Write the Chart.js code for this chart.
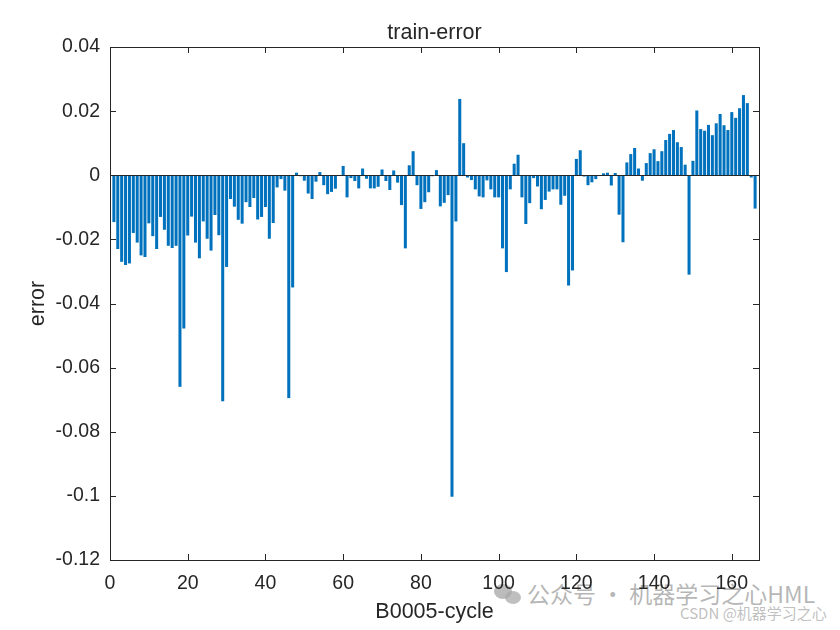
<!DOCTYPE html>
<html>
<head>
<meta charset="utf-8">
<script src="https://cdn.jsdelivr.net/npm/chart.js@4/dist/chart.umd.min.js"></script>
<style>
  html, body { margin: 0; padding: 0; background: #fff; }
  #wrap { position: relative; width: 840px; height: 630px; }
  #chart { position: absolute; left: 0; top: 0; z-index: 2; }
  .wm { position: absolute; z-index: 1; font-family: "Noto Sans CJK SC", sans-serif; white-space: nowrap; }
  #wm1 { left: 527px; top: 576px; font-size: 23px; color: rgba(150,150,150,0.7); }
  #wm2 { left: 680px; top: 602px; font-size: 15px; color: rgba(175,175,175,0.8); }
  #wmIcon  { left: 494px; top: 584px; width: 18px; height: 15px; border-radius: 50%; background: rgba(160,160,160,0.7); }
  #wmIcon2 { left: 505px; top: 591px; width: 16px; height: 13px; border-radius: 50%; background: rgba(170,170,170,0.75); }
</style>
</head>
<body>
<div id="wrap">
  <div class="wm" id="wmIcon"></div>
  <div class="wm" id="wmIcon2"></div>
  <div class="wm" id="wm1">公众号 · 机器学习之心HML</div>
  <div class="wm" id="wm2">CSDN @机器学习之心</div>
  <canvas id="chart" width="840" height="630"></canvas>
</div>
<script>
// ── data ──
const errors = [
  -0.0146, -0.023, -0.027, -0.028, -0.0275, -0.018, -0.021, -0.025, -0.0255, -0.015,
  -0.019, -0.023, -0.013, -0.017, -0.022, -0.0227, -0.022, -0.066, -0.0478, -0.0188,
  -0.0129, -0.021, -0.0259, -0.0144, -0.0198, -0.0235, -0.0124, -0.0187, -0.0705, -0.0286,
  -0.0074, -0.0098, -0.0139, -0.0151, -0.0084, -0.0099, -0.0071, -0.0138, -0.013, -0.0099,
  -0.0198, -0.0149, -0.0038, -0.0012, -0.0048, -0.0695, -0.035, 0.0008, -0.0003, -0.0017,
  -0.0057, -0.0074, -0.002, 0.001, -0.0031, -0.0059, -0.0052, -0.0042, -0.0002, 0.0029,
  -0.0069, -0.0009, -0.0018, -0.0041, 0.0021, -0.0011, -0.0041, -0.0041, -0.0036, 0.0018,
  -0.0018, -0.0046, 0.0015, -0.0023, -0.0093, -0.0228, 0.0031, 0.0075, -0.0031, -0.0105,
  -0.0084, -0.0053, -0.0003, 0.0016, -0.0097, -0.0086, -0.0062, -0.1003, -0.0144, 0.0238,
  0.01, -0.0007, -0.0015, -0.0044, -0.0066, -0.0069, -0.0016, -0.0044, -0.0069, -0.0069,
  -0.0228, -0.0302, -0.0044, 0.0036, 0.0064, -0.0069, -0.0152, -0.0087, -0.0009, -0.0035,
  -0.0106, -0.0077, -0.0051, -0.0044, -0.0044, -0.0092, -0.0064, -0.0344, -0.0297, 0.0051,
  0.0078, -0.0004, -0.0031, -0.0022, -0.0012, -0.0002, 0.0006, 0.0008, -0.0032, 0.0007,
  -0.0123, -0.0209, 0.004, 0.0066, 0.0085, 0.0021, -0.0017, 0.0038, 0.0069, 0.0081,
  0.0044, 0.0075, 0.011, 0.0129, 0.0141, 0.0103, 0.0088, 0.0033, -0.031, 0.0045,
  0.0202, 0.0144, 0.0139, 0.0157, 0.0125, 0.0162, 0.0191, 0.0156, 0.0141, 0.0197,
  0.0179, 0.0209, 0.025, 0.0225, -0.0007, -0.0104
];
const cycles  = errors.map((_, i) => i + 1);
const xTicks  = [0, 20, 40, 60, 80, 100, 120, 140, 160];
const yTicks  = [0.04, 0.02, 0, -0.02, -0.04, -0.06, -0.08, -0.1, -0.12];
const X_MAX   = 167;
const TITLE   = "train-error";

const AXIS_COLOR = "#262626";
const BAR_COLOR  = "#0072BD";
const FONT       = "'Liberation Sans', Arial, sans-serif";
const TICK_SIZE  = 19.5;
const LABEL_SIZE = 21.5;

// ── box + inward ticks + baseline + title centred on the axes (MATLAB style) ──
const matlabAxes = {
  id: "matlabAxes",
  afterDatasetsDraw(chart) {
    const { ctx, chartArea: a, scales: { x, y } } = chart;
    const len = 6;
    ctx.save();
    ctx.strokeStyle = AXIS_COLOR;
    ctx.lineWidth = 1;

    // baseline at 0
    const y0 = Math.round(y.getPixelForValue(0)) + 0.5;
    ctx.beginPath();
    ctx.moveTo(a.left, y0);
    ctx.lineTo(a.right, y0);
    ctx.stroke();

    // box
    ctx.strokeRect(Math.round(a.left) + 0.5, Math.round(a.top) + 0.5,
                   Math.round(a.right - a.left), Math.round(a.bottom - a.top));

    ctx.beginPath();
    xTicks.forEach(v => {
      const px = Math.round(x.getPixelForValue(v)) + 0.5;
      ctx.moveTo(px, a.bottom); ctx.lineTo(px, a.bottom - len);
      ctx.moveTo(px, a.top);    ctx.lineTo(px, a.top + len);
    });
    yTicks.forEach(v => {
      const py = Math.round(y.getPixelForValue(v)) + 0.5;
      ctx.moveTo(a.left, py);  ctx.lineTo(a.left + len, py);
      ctx.moveTo(a.right, py); ctx.lineTo(a.right - len, py);
    });
    ctx.stroke();

    // title
    ctx.fillStyle = AXIS_COLOR;
    ctx.font = `${LABEL_SIZE}px ${FONT}`;
    ctx.textAlign = "center";
    ctx.textBaseline = "alphabetic";
    ctx.fillText(TITLE, (a.left + a.right) / 2, a.top - 8);
    ctx.restore();
  }
};

new Chart(document.getElementById("chart"), {
  type: "bar",
  data: {
    datasets: [{
      label: "error",
      data: cycles.map((c, i) => ({ x: c, y: errors[i] })),
      backgroundColor: BAR_COLOR,
      borderWidth: 0,
      barPercentage: 0.78,
      categoryPercentage: 1
    }]
  },
  options: {
    responsive: false,
    animation: false,
    events: [],
    layout: { padding: { left: 0, right: 81, top: 47, bottom: 0 } },
    plugins: {
      legend: { display: false },
      tooltip: { enabled: false },
      title: { display: false }
    },
    scales: {
      x: {
        type: "linear",
        min: 0, max: X_MAX,
        offset: false,
        grid: { display: false, drawTicks: false, offset: false },
        border: { display: false },
        afterBuildTicks: s => { s.ticks = xTicks.map(v => ({ value: v })); },
        afterFit: s => { s.height = 70; },
        ticks: {
          color: AXIS_COLOR,
          font: { family: FONT, size: TICK_SIZE },
          padding: 12,
          maxRotation: 0,
          autoSkip: false,
          callback: v => String(v)
        },
        title: {
          display: true,
          text: "B0005-cycle",
          color: AXIS_COLOR,
          font: { family: FONT, size: LABEL_SIZE, lineHeight: 1.2 },
          padding: { top: 0, bottom: 5 }
        }
      },
      y: {
        min: -0.12, max: 0.04,
        grid: { display: false, drawTicks: false },
        border: { display: false },
        afterBuildTicks: s => { s.ticks = yTicks.map(v => ({ value: v })); },
        afterFit: s => { s.width = 110; },
        ticks: {
          color: AXIS_COLOR,
          font: { family: FONT, size: TICK_SIZE },
          padding: 10,
          autoSkip: false,
          callback: v => String(parseFloat(Number(v).toFixed(2)))
        },
        title: {
          display: true,
          text: "error",
          color: AXIS_COLOR,
          font: { family: FONT, size: LABEL_SIZE, lineHeight: 1.2 },
          padding: { top: 25, bottom: 0 }
        }
      }
    }
  },
  plugins: [matlabAxes]
});
</script>
</body>
</html>
